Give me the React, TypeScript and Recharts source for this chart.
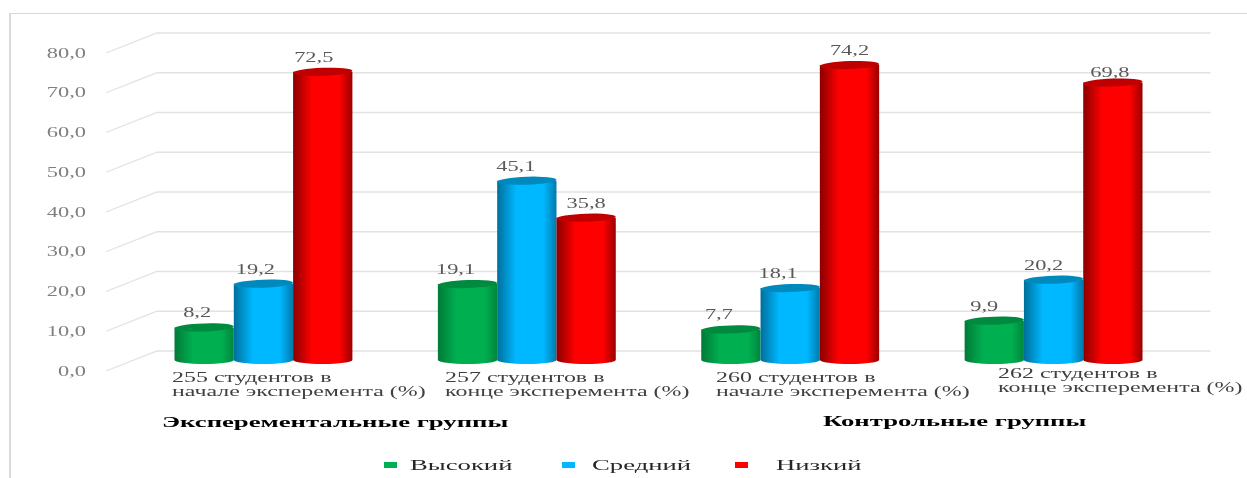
import React from 'react';
import { BarChart, Bar, XAxis, YAxis, CartesianGrid, LabelList, Legend } from 'recharts';

const categories = ['g255', 'g257', 'g260', 'g262'];
const categoryLines = [
  ['255 студентов в', 'начале эксперемента (%)'],
  ['257 студентов в', 'конце эксперемента (%)'],
  ['260 студентов в', 'начале эксперемента (%)'],
  ['262 студентов в', 'конце эксперемента (%)'],
];
const high = [8.2, 19.1, 7.7, 9.9];
const medium = [19.2, 45.1, 18.1, 20.2];
const low = [72.5, 35.8, 74.2, 69.8];
const yTicks = [0, 10, 20, 30, 40, 50, 60, 70, 80];
const groupTitles = ['Эксперементальные группы', 'Контрольные группы'];
const seriesNames = ['Высокий', 'Средний', 'Низкий'];

const data = categories.map((c, i) => ({ c, high: high[i], medium: medium[i], low: low[i] }));
const fmt = (v: number) => v.toFixed(1).replace('.', ',');
const SERIF = '"Liberation Serif", serif';

const palette: Record<string, { id: string; edgeL: string; mid: string; edgeR: string; cap: string }> = {
  high: { id: 'gHigh', edgeL: '#007a38', mid: '#00b050', edgeR: '#00863d', cap: '#008a3f' },
  medium: { id: 'gMed', edgeL: '#006f9c', mid: '#00b8ff', edgeR: '#0079aa', cap: '#0089bd' },
  low: { id: 'gLow', edgeL: '#8a0000', mid: '#ff0000', edgeR: '#9a0000', cap: '#c00000' },
};

function SText({ x, y, sx = 1.5, size = 14, fill = '#595959', weight = 400, anchor = 'start', children }: any) {
  return (
    <text transform={`translate(${x},${y}) scale(${sx},1)`} fontFamily={SERIF} fontSize={size} fill={fill}
      fontWeight={weight} textAnchor={anchor}>{children}</text>
  );
}

const cylinder = (key: string) => (props: any) => {
  const { x, y, width, height } = props;
  const p = palette[key];
  const rx = width / 2;
  const ry = 4;
  const cx = x + rx;
  const bottom = y + height;
  return (
    <g>
      <path d={`M${x},${y} L${x},${bottom} A${rx},${ry} 0 0 0 ${x + width},${bottom} L${x + width},${y} Z`}
        fill={`url(#${p.id})`} />
      <ellipse cx={cx} cy={y} rx={rx} ry={ry} fill={p.cap} transform={`rotate(-2 ${cx} ${y})`} />
    </g>
  );
};

const labelNudges: Record<string, number[][]> = {
  high: [[-7, -14], [-12, -14], [-12, -14], [-10, -14]],
  medium: [[-8, -14], [-11, -14], [-12, -14], [-10, -14]],
  low: [[-9, -14], [0, -14], [0, -14], [-3, -10]],
};

const valueLabel = (key: string) => (props: any) => {
  const { x, y, width, value, index } = props;
  const [dx, dy] = labelNudges[key][index];
  return <SText x={x + width / 2 + dx} y={y + dy + 4} anchor="middle" sx={1.6} size={14} fill="#595959">{fmt(value)}</SText>;
};

const lineNudges = [[172, 0], [445, 0], [716, 0], [998, -4]];

const CategoryTick = (props: any) => {
  const { index } = props;
  const [lx, dy] = lineNudges[index];
  const base = 382 + dy;
  return (
    <g>
      <SText x={lx} y={base} size={14} sx={1.71} fill="#404040">{categoryLines[index][0]}</SText>
      <SText x={lx} y={base + 14} size={14} sx={1.71} fill="#404040">{categoryLines[index][1]}</SText>
    </g>
  );
};

const YTick = (props: any) => {
  const { y, payload } = props;
  return <SText x={86} y={y + 15.5} anchor="end" sx={1.6} size={14} fill="#7f7f7f">{fmt(payload.value)}</SText>;
};

const GridLine = (props: any) => {
  const { y1, x2 } = props;
  const back = y1 - 9;
  return (
    <polyline points={`106,${y1 + 11} 157,${back} ${x2 + 25.5},${back}`} fill="none" stroke="#e2e2e2" strokeWidth={1.3} />
  );
};

const LegendRow = () => {
  const items = [
    { sq: 384, tx: 410, c: palette.high.mid, name: seriesNames[0] },
    { sq: 562, tx: 592, c: palette.medium.mid, name: seriesNames[1] },
    { sq: 735, tx: 776, c: palette.low.mid, name: seriesNames[2] },
  ];
  return (
    <svg width={1247} height={40} style={{ display: 'block' }}>
      {items.map((it) => (
        <g key={it.name}>
          <rect x={it.sq} y={26} width={13} height={6} fill={it.c} />
          <SText x={it.tx} y={34} size={15} sx={1.78} fill="#262626">{it.name}</SText>
        </g>
      ))}
    </svg>
  );
};

export default function App() {
  return (
    <div style={{ position: 'absolute', left: 0, top: 0, width: 1247, height: 478, background: '#fff', overflow: 'hidden', filter: 'blur(0.45px)' }}>
      <div style={{ position: 'absolute', left: 9, top: 13, width: 1238, height: 465, borderLeft: '2px solid #d9d9d9', borderTop: '1.5px solid #d9d9d9' }} />
      <BarChart width={1247} height={478} data={data} style={{ position: 'absolute', left: 0, top: 0 }}
        margin={{ top: 42, right: 62, bottom: 0, left: 31.5 }} barGap={0} barSize={59.3} barCategoryGap={42}>
        <defs>
          {Object.values(palette).map((p) => (
            <linearGradient key={p.id} id={p.id} x1="0" y1="0" x2="1" y2="0">
              <stop offset="0" stopColor={p.edgeL} />
              <stop offset="0.32" stopColor={p.mid} />
              <stop offset="0.78" stopColor={p.mid} />
              <stop offset="1" stopColor={p.edgeR} />
            </linearGradient>
          ))}
        </defs>
        <CartesianGrid vertical={false} horizontal={(p: any) => <GridLine key={p.key ?? p.y1} {...p} />} />
        <XAxis dataKey="c" axisLine={false} tickLine={false} tick={<CategoryTick />} interval={0} height={118} />
        <YAxis width={100} domain={[0, 80]} ticks={yTicks} axisLine={false} tickLine={false} tick={<YTick />} interval={0} />
        <Bar dataKey="high" name={seriesNames[0]} fill={palette.high.mid} shape={cylinder('high')} isAnimationActive={false}>
          <LabelList dataKey="high" content={valueLabel('high')} />
        </Bar>
        <Bar dataKey="medium" name={seriesNames[1]} fill={palette.medium.mid} shape={cylinder('medium')} isAnimationActive={false}>
          <LabelList dataKey="medium" content={valueLabel('medium')} />
        </Bar>
        <Bar dataKey="low" name={seriesNames[2]} fill={palette.low.mid} shape={cylinder('low')} isAnimationActive={false}>
          <LabelList dataKey="low" content={valueLabel('low')} />
        </Bar>
        <Legend verticalAlign="middle" content={<LegendRow />} wrapperStyle={{ left: 0, top: 436, width: 1247 }} />
        <SText x={162} y={427} size={15} sx={1.78} fill="#000" weight={700}>{groupTitles[0]}</SText>
        <SText x={823} y={426} size={15} sx={1.78} fill="#000" weight={700}>{groupTitles[1]}</SText>
      </BarChart>
    </div>
  );
}
